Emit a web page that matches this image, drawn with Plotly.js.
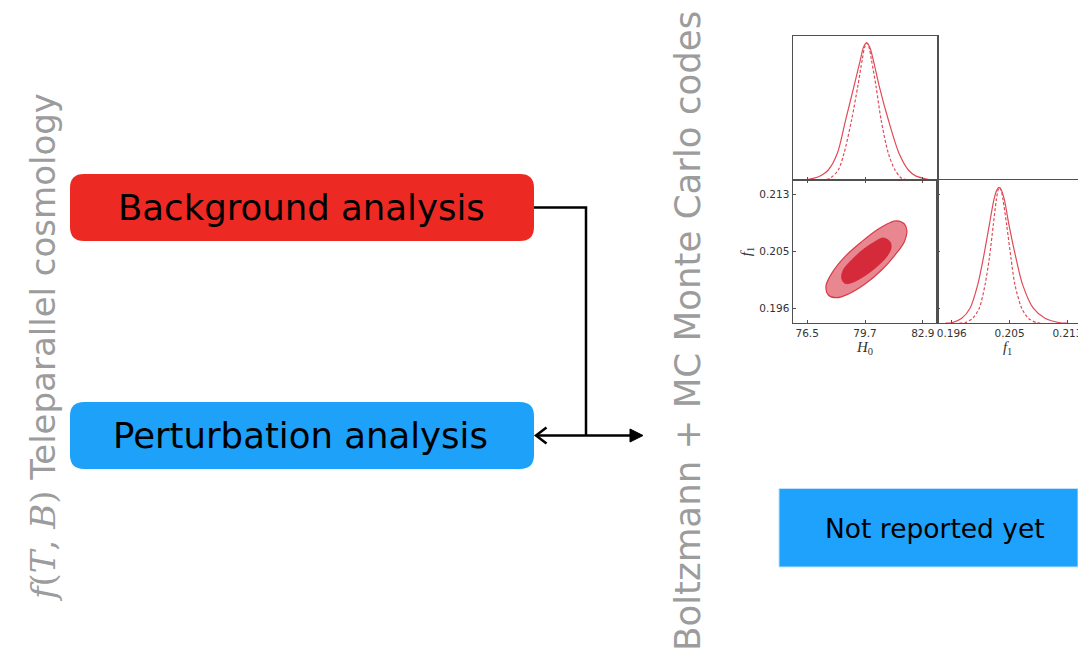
<!DOCTYPE html>
<html><head><meta charset="utf-8">
<script src="https://cdn.plot.ly/plotly-3.0.1.min.js"></script>
<style>html,body{margin:0;padding:0;background:#fff}#chart{width:1078px;height:655px}</style>
</head><body><div id="chart"></div>
<script>
// ---------- data ----------
// 1D marginal of H0 (top panel), normalised to peak = 1
const h0SolidX = [76.3, 76.84, 77.3, 77.67, 78.17, 78.63, 79.09, 79.45, 79.62, 79.79, 79.96, 80.15, 80.49, 80.99, 81.58, 82.10, 82.5, 82.93, 83.4];
const h0SolidY = [0.0, 0.012, 0.035, 0.073, 0.195, 0.439, 0.683, 0.88, 0.97, 1.0, 0.97, 0.88, 0.683, 0.439, 0.195, 0.073, 0.03, 0.012, 0.0];
const h0DashX  = [77.3, 77.76, 78.22, 78.54, 78.96, 79.30, 79.55, 79.68, 79.79, 79.92, 80.05, 80.31, 80.59, 80.99, 81.36, 81.73, 82.1];
const h0DashY  = [0.0, 0.012, 0.073, 0.195, 0.439, 0.683, 0.88, 0.97, 1.0, 0.97, 0.88, 0.683, 0.439, 0.195, 0.073, 0.012, 0.0];
// 1D marginal of f1 (lower-right panel)
const f1SolidX = [0.1955, 0.19639, 0.19783, 0.19902, 0.20012, 0.20093, 0.20179, 0.20245, 0.20285, 0.20318, 0.20352, 0.20395, 0.20461, 0.20562, 0.20658, 0.20810, 0.20978, 0.21193, 0.2130];
const f1SolidY = [0.0, 0.002, 0.035, 0.109, 0.281, 0.478, 0.724, 0.91, 0.98, 1.0, 0.98, 0.91, 0.724, 0.478, 0.281, 0.109, 0.035, 0.002, 0.0];
const f1DashX  = [0.1975, 0.19830, 0.19940, 0.20035, 0.20117, 0.20179, 0.20236, 0.20280, 0.20304, 0.20325, 0.20348, 0.20375, 0.20428, 0.20490, 0.20547, 0.20644, 0.20738, 0.20859, 0.2093];
const f1DashY  = [0.0, 0.002, 0.035, 0.109, 0.281, 0.478, 0.724, 0.91, 0.98, 1.0, 0.98, 0.91, 0.724, 0.478, 0.281, 0.109, 0.035, 0.002, 0.0];
// 2D contours (H0, f1): 95% (outer) and 68% (inner)
const outerH0 = [81.45, 81.88, 82.02, 81.88, 81.36, 80.62, 79.70, 78.78, 78.13, 77.67, 77.54, 77.86, 78.59, 79.52, 80.44, 81.08, 81.45];
const outerF1 = [0.20913, 0.20869, 0.20772, 0.20613, 0.20419, 0.20202, 0.19998, 0.19853, 0.19800, 0.19839, 0.19969, 0.20153, 0.20395, 0.20613, 0.20796, 0.20888, 0.20913];
const innerH0 = [80.71, 81.08, 81.14, 80.90, 80.35, 79.61, 78.96, 78.59, 78.41, 78.50, 78.96, 79.61, 80.25, 80.71];
const innerF1 = [0.20666, 0.20613, 0.20516, 0.20395, 0.20250, 0.20105, 0.20018, 0.20008, 0.20081, 0.20202, 0.20347, 0.20501, 0.20613, 0.20666];
// ticks
const h0TickVals = [76.5, 79.7, 82.9];
const h0TickText = ['76.5', '79.7', '82.9'];
const f1TickVals = [0.1964, 0.2047, 0.2130];
const f1TickText = ['0.196', '0.205', '0.213'];
// texts
const boxLabels = ['Background analysis', 'Perturbation analysis'];
const pendingLabel = 'Not reported yet';
const leftTitle = '<span style="font-family:DejaVu Serif"><i>f</i>(<i>T</i>, <i>B</i>)</span> Teleparallel cosmology';
const rightTitle = 'Boltzmann + MC Monte Carlo codes';
const h0Title = '<i>H</i><sub>0</sub>';
const f1Title = '<i>f</i><sub>1</sub>';

// ---------- layout helpers ----------
const W = 1078, H = 655;
const X = p => p / W, Y = p => 1 - p / H;
const P = (x, y) => X(x).toFixed(5) + ',' + Y(y).toFixed(5);
function rrect(x0, y0, x1, y1, r) {
  return 'M' + P(x0 + r, y0) + ' L' + P(x1 - r, y0) + ' Q' + P(x1, y0) + ' ' + P(x1, y0 + r) +
    ' L' + P(x1, y1 - r) + ' Q' + P(x1, y1) + ' ' + P(x1 - r, y1) +
    ' L' + P(x0 + r, y1) + ' Q' + P(x0, y1) + ' ' + P(x0, y1 - r) +
    ' L' + P(x0, y0 + r) + ' Q' + P(x0, y0) + ' ' + P(x0 + r, y0) + ' Z';
}
const h0Range = [75.7, 83.7];
const f1Range = [0.194325, 0.215075];
const panelL = 792.7, panelM = 937.3, panelW = 144.6;
const f1Range3 = [f1Range[0], f1Range[0] + (f1Range[1] - f1Range[0]) * (W - panelM) / panelW];
const dens3Max = 1.055;

const curveCol = '#E04B57';
const axCol = '#505050';
const tickFont = {family: 'DejaVu Sans', size: 10.5, color: '#333'};
const mathFont = {family: 'Liberation Serif', size: 15, color: '#333'};
const axBase = {showline: true, linecolor: axCol, linewidth: 1.2, showgrid: false, zeroline: false,
  tickcolor: axCol, ticklen: 3, tickwidth: 1, automargin: false, fixedrange: true, ticklabeloverflow: 'allow'};

const traces = [
  {x: h0SolidX, y: h0SolidY, xaxis: 'x', yaxis: 'y', mode: 'lines', line: {color: curveCol, width: 1.2, shape: 'spline', smoothing: 0.8}, hoverinfo: 'skip'},
  {x: h0DashX, y: h0DashY, xaxis: 'x', yaxis: 'y', mode: 'lines', line: {color: curveCol, width: 1.2, shape: 'spline', smoothing: 0.8, dash: '3px,2px'}, hoverinfo: 'skip'},
  {x: outerH0, y: outerF1, xaxis: 'x2', yaxis: 'y2', mode: 'lines', fill: 'toself', fillcolor: '#E8878F', line: {color: '#D83A48', width: 1.2, shape: 'spline'}, hoverinfo: 'skip'},
  {x: innerH0, y: innerF1, xaxis: 'x2', yaxis: 'y2', mode: 'lines', fill: 'toself', fillcolor: '#D42A3A', line: {color: '#D42A3A', width: 0.8, shape: 'spline'}, hoverinfo: 'skip'},
  {x: f1SolidX, y: f1SolidY, xaxis: 'x3', yaxis: 'y3', mode: 'lines', line: {color: curveCol, width: 1.2, shape: 'spline', smoothing: 0.8}, hoverinfo: 'skip'},
  {x: f1DashX, y: f1DashY, xaxis: 'x3', yaxis: 'y3', mode: 'lines', line: {color: curveCol, width: 1.2, shape: 'spline', smoothing: 0.8, dash: '3px,2px'}, hoverinfo: 'skip'}
];

const layout = {
  width: W, height: H, margin: {l: 0, r: 0, t: 0, b: 0},
  paper_bgcolor: '#fff', plot_bgcolor: 'rgba(0,0,0,0)', showlegend: false,
  xaxis: Object.assign({}, axBase, {domain: [X(panelL), X(panelM)], anchor: 'y', range: h0Range,
    tickvals: h0TickVals, showticklabels: false, ticks: 'inside', mirror: true}),
  yaxis: Object.assign({}, axBase, {domain: [Y(180), Y(36)], anchor: 'x', range: [0, 1.05],
    showticklabels: false, ticks: '', mirror: true}),
  xaxis2: Object.assign({}, axBase, {domain: [X(panelL), X(panelM)], anchor: 'y2', range: h0Range,
    tickvals: h0TickVals, ticktext: h0TickText, ticks: 'inside', mirror: 'ticks', tickfont: tickFont,
    title: {text: h0Title, font: mathFont, standoff: 1}}),
  yaxis2: Object.assign({}, axBase, {domain: [Y(323), Y(180)], anchor: 'x2', range: f1Range,
    tickvals: f1TickVals, ticktext: f1TickText, ticks: 'inside', mirror: true, tickfont: tickFont,
    title: {text: f1Title, font: mathFont, standoff: 4}}),
  xaxis3: Object.assign({}, axBase, {domain: [X(panelM), 1], anchor: 'y3', range: f1Range3,
    tickvals: f1TickVals, ticktext: f1TickText, ticks: 'inside', mirror: true, tickfont: tickFont,
    title: {text: f1Title, font: mathFont, standoff: 1}}),
  yaxis3: Object.assign({}, axBase, {domain: [Y(323), Y(180)], anchor: 'x3', range: [0, dens3Max],
    tickvals: f1TickVals.map(v => (v - f1Range[0]) / (f1Range[1] - f1Range[0]) * dens3Max),
    showticklabels: false, ticks: 'inside', mirror: false}),
  shapes: [
    {type: 'path', xref: 'paper', yref: 'paper', path: rrect(70, 174, 534, 241, 14), fillcolor: '#EC2A23', line: {width: 0}, layer: 'below'},
    {type: 'path', xref: 'paper', yref: 'paper', path: rrect(70, 402, 534, 469, 14), fillcolor: '#1DA1F9', line: {width: 0}, layer: 'below'},
    {type: 'path', xref: 'paper', yref: 'paper', path: 'M' + P(779, 488.5) + ' L' + P(1078, 488.5) + ' L' + P(1078, 567) + ' L' + P(779, 567) + ' Z', fillcolor: '#1EA2FC', line: {width: 1, color: '#BFE3FE'}, layer: 'below'},
    {type: 'path', xref: 'paper', yref: 'paper', path: 'M' + P(534, 207.5) + ' L' + P(586, 207.5) + ' L' + P(586, 435.5), line: {color: '#000', width: 2.5}},
    {type: 'path', xref: 'paper', yref: 'paper', path: 'M' + P(536, 435.5) + ' L' + P(632, 435.5), line: {color: '#000', width: 2.5}},
    {type: 'path', xref: 'paper', yref: 'paper', path: 'M' + P(546.5, 427.5) + ' L' + P(536, 435.5) + ' L' + P(546.5, 443.5), line: {color: '#000', width: 2.5}},
    {type: 'path', xref: 'paper', yref: 'paper', path: 'M' + P(643, 435.5) + ' L' + P(630, 429) + ' L' + P(630, 442) + ' Z', fillcolor: '#000', line: {color: '#000', width: 1}}
  ],
  annotations: [
    {xref: 'paper', yref: 'paper', x: X(301), y: Y(207.5), text: boxLabels[0], showarrow: false, xanchor: 'center', yanchor: 'middle', font: {family: 'DejaVu Sans', size: 35.5, color: '#000'}},
    {xref: 'paper', yref: 'paper', x: X(300.5), y: Y(435.5), text: boxLabels[1], showarrow: false, xanchor: 'center', yanchor: 'middle', font: {family: 'DejaVu Sans', size: 35.5, color: '#000'}},
    {xref: 'paper', yref: 'paper', x: X(934.5), y: Y(528), text: pendingLabel, showarrow: false, xanchor: 'center', yanchor: 'middle', font: {family: 'DejaVu Sans', size: 26.5, color: '#000'}},
    {xref: 'paper', yref: 'paper', x: X(43), y: Y(348), text: leftTitle, textangle: -90, showarrow: false, xanchor: 'center', yanchor: 'middle', font: {family: 'DejaVu Sans', size: 34, color: '#9C9C9C'}},
    {xref: 'paper', yref: 'paper', x: X(687), y: Y(331), text: rightTitle, textangle: -90, showarrow: false, xanchor: 'center', yanchor: 'middle', font: {family: 'DejaVu Sans', size: 35.6, color: '#9C9C9C'}}
  ]
};

Plotly.newPlot('chart', traces, layout, {staticPlot: true, displayModeBar: false});
</script>
</body></html>
